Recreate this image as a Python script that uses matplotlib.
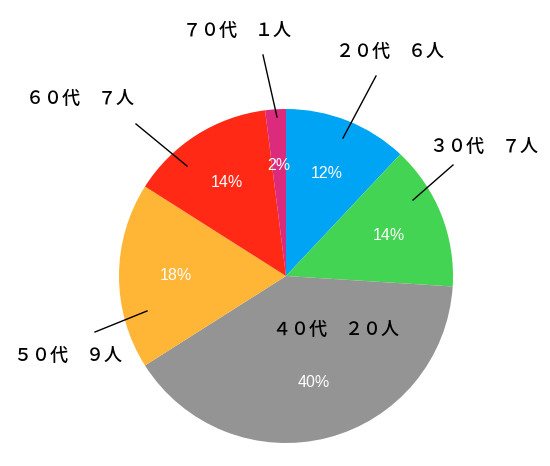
import matplotlib
matplotlib.use("Agg")
import matplotlib.pyplot as plt

# data
labels = ["２０代　６人", "３０代　７人", "４０代　２０人", "５０代　９人", "６０代　７人", "７０代　１人"]
counts = [6, 7, 20, 9, 7, 1]
colors = ["#00A4F5", "#44D454", "#949494", "#FFB536", "#FF2916", "#DC2A7C"]

# layout (pixel coords, y from top)
W, H = 550, 466
center = (286, 276)
radius = 167
text_pos = [(390, 52), (484, 147), (336, 330), (68, 356), (80, 99), (237, 31)]
lines = [((343, 138), (376, 76)), ((413, 200), (453, 165)), None,
         ((147, 311), (95, 332)), ((187, 166), (136, 124)), ((277, 117), (263, 55))]

fig = plt.figure(figsize=(W / 100, H / 100), dpi=100)
ax = fig.add_axes([0, 0, 1, 1])

def P(p):
    return (p[0], H - p[1])

wedges, texts, autotexts = ax.pie(
    counts, colors=colors, startangle=90, counterclock=False,
    center=P(center), radius=radius, frame=True,
    autopct=lambda p: f"{p:.0f}%", pctdistance=0.66,
    wedgeprops=dict(linewidth=0),
    textprops=dict(color="white", fontsize=11.5, family=["Liberation Sans", "DejaVu Sans"]))
ax.set_xlim(0, W)
ax.set_ylim(0, H)
ax.set_aspect("equal")
ax.axis("off")

for lab, tp, ln in zip(labels, text_pos, lines):
    ax.text(*P(tp), lab, ha="center", va="center", fontsize=13, fontweight="medium",
            family=["Noto Sans CJK JP", "DejaVu Sans"], color="black")
    if ln is not None:
        a, b = P(ln[0]), P(ln[1])
        ax.plot([a[0], b[0]], [a[1], b[1]], color="black", lw=1)

fig.savefig("out.png", dpi=100)
